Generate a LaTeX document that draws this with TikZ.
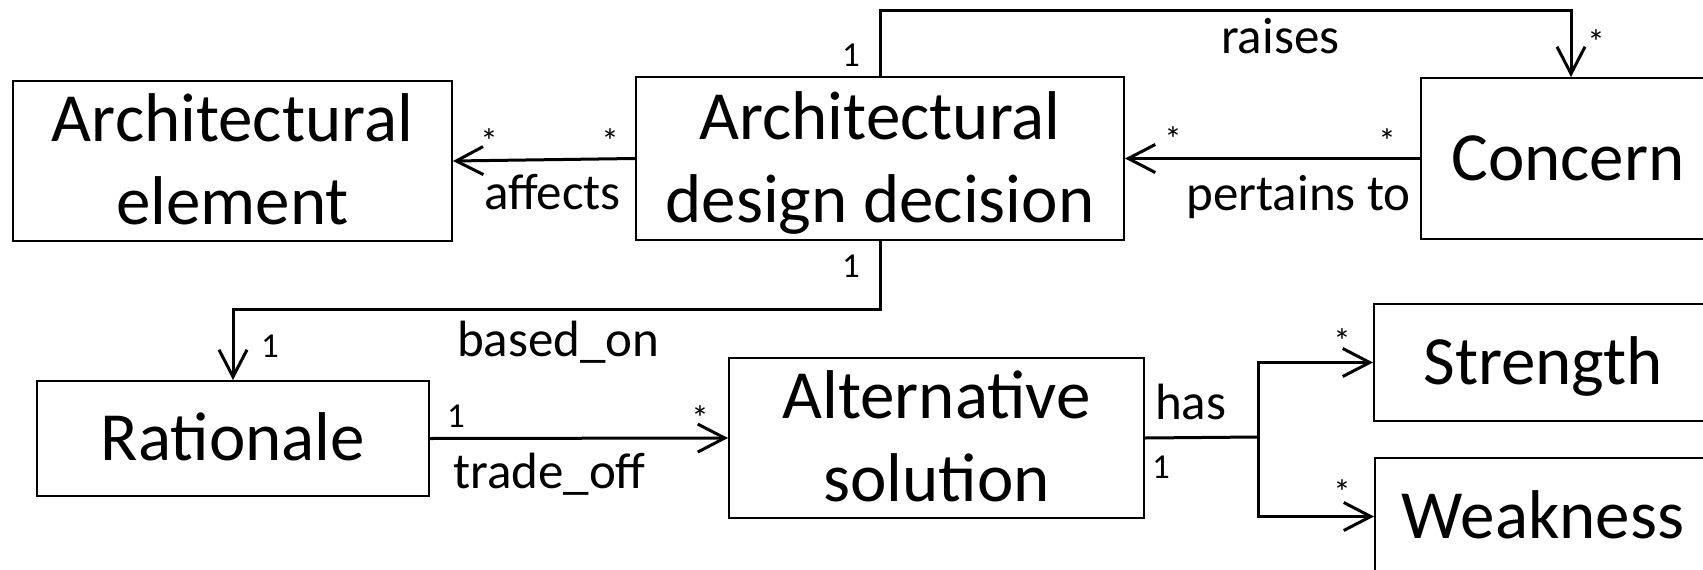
\documentclass[tikz,border=0pt]{standalone}
\usepackage{fontspec}
\setmainfont{Carlito}
\usetikzlibrary{arrows.meta}
\newcommand\boxfnt{\fontsize{69}{83}\selectfont}
\newcommand\labfnt{\fontsize{51}{61}\selectfont}
\newcommand\mulfnt{\fontsize{35}{42}\selectfont}
\begin{document}
\begin{tikzpicture}[x=1pt,y=-1pt,
  box/.style={draw, line width=2pt, inner sep=0pt, font=\boxfnt, align=center},
  oneline/.style={box, text height=44pt, text depth=0pt},
  twoline/.style={box, text height=127pt, text depth=0pt},
  lab/.style={font=\labfnt, inner sep=0pt},
  mult/.style={font=\mulfnt, inner sep=0pt, anchor=base},
  conn/.style={line width=3pt},
  arr/.style={conn, -{Straight Barb[length=27pt,width=28pt]}}]
\fill[white] (0,0) rectangle (1703,570);
\useasboundingbox (0,0) rectangle (1703,570);
% boxes
\node[twoline, minimum width=439pt, minimum height=160pt] (AE) at (232.5,161) {Architectural\\element};
\node[twoline, minimum width=488pt, minimum height=163pt] (ADD) at (880,158.5) {Architectural\\design decision};
\node[oneline, minimum width=294pt, minimum height=161pt] (Con) at (1568,158.5) {Concern};
\node[oneline, minimum width=392pt, minimum height=115pt] (Rat) at (233,438.5) {Rationale};
\node[twoline, minimum width=415pt, minimum height=160pt] (Alt) at (936.5,438) {Alternative\\solution};
\node[oneline, minimum width=338pt, minimum height=117pt] (Str) at (1543,362.5) {Strength};
\node[oneline, minimum width=336pt, minimum height=117pt] (Weak) at (1543,516.5) {Weakness};
% connector corners
\coordinate (rtop) at (1571,10);
\coordinate (bmid) at (233,309);
\coordinate (br) at (1258,437);
% connectors
\draw[arr] (ADD.north) |- (rtop) -- ([xshift=3pt]Con.north);
\draw[arr] (Con.west) -- (ADD.east);
\draw[arr] (ADD.west) -- (AE.east);
\draw[arr] (ADD.south) |- (bmid) -- (Rat.north);
\draw[arr] (Rat.east) -- (Alt.west);
\draw[conn] (Alt.east) -- (br);
\draw[arr] (br) |- (Str.west);
\draw[arr] (br) |- (Weak.west);
% association labels
\node[lab, anchor=base west] (laff) at (484,209) {affects};
\node[lab, anchor=base east] (lper) at (1411,210) {pertains to};
\node[lab, anchor=base west] (lrai) at (1221,53) {raises};
\node[lab, anchor=base west] (lbas) at (457,356) {based\_on};
\node[lab, anchor=base west] (ltra) at (453,488) {trade\_off};
\node[lab, anchor=base west] (lhas) at (1155,419) {has};
% multiplicities
\node[mult] (m1) at (851,66) {1};
\node[mult] (m2) at (851,277) {1};
\node[mult] (m3) at (1596,54) {*};
\node[mult] (m4) at (1387,153) {*};
\node[mult] (m5) at (1173,151) {*};
\node[mult] (m6) at (489,153) {*};
\node[mult] (m7) at (610,153) {*};
\node[mult] (m8) at (270,357) {1};
\node[mult] (m9) at (456,427) {1};
\node[mult] (m10) at (700,430) {*};
\node[mult] (m11) at (1161,478) {1};
\node[mult] (m12) at (1342,353) {*};
\node[mult] (m13) at (1342,504) {*};
\end{tikzpicture}
\end{document}
